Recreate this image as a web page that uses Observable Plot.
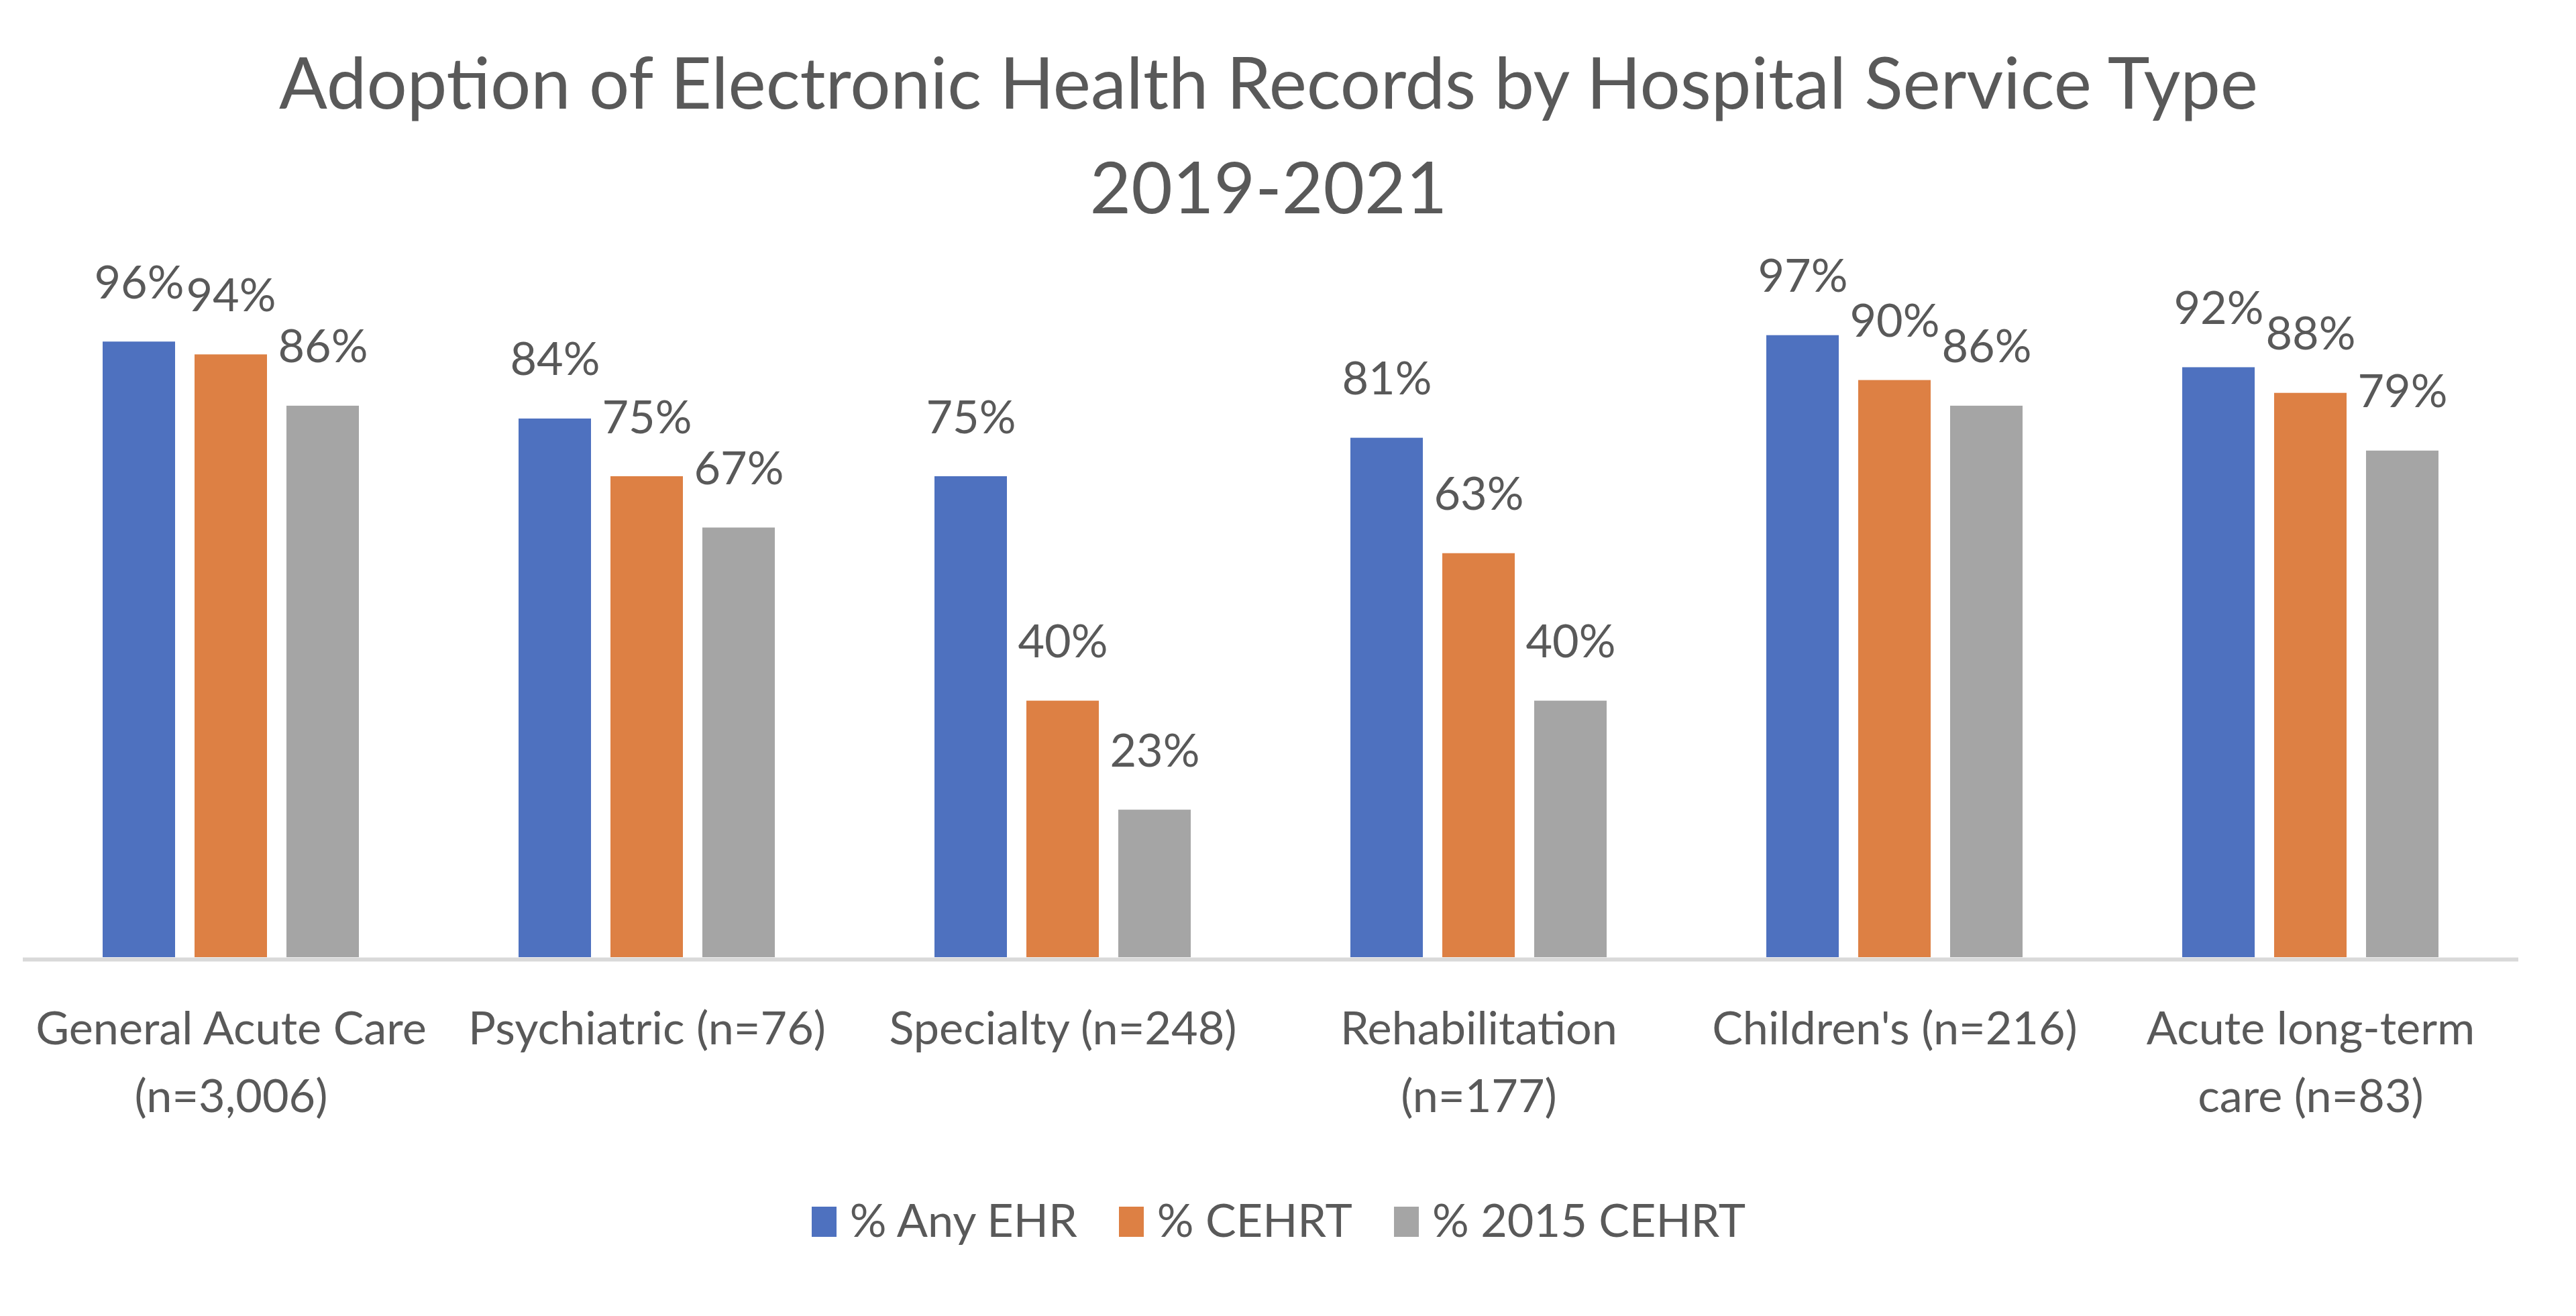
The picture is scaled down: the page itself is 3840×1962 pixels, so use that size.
<!DOCTYPE html>
<html>
<head>
<meta charset="utf-8">
<script src="https://cdn.jsdelivr.net/npm/d3@7"></script>
<script src="https://cdn.jsdelivr.net/npm/@observablehq/plot@0.6"></script>
<style>
  html, body { margin: 0; padding: 0; background: #ffffff; }
  #wrap { position: relative; width: 3840px; height: 1962px; overflow: hidden; background: #ffffff; font-family: Lato, "Open Sans", sans-serif; color: #595959; }
  .title { position: absolute; left: 0; width: 3782px; text-align: center; line-height: 0; white-space: nowrap; }
  #chart { position: absolute; left: 0; top: 360px; }
  #legend { position: absolute; left: 0; width: 3812px; top: 1799px; text-align: center; line-height: 0; white-space: nowrap; }
  .item { display: inline-block; vertical-align: baseline; margin-right: 62px; }
  .item:last-child { margin-right: 0; }
  .sw { display: inline-block; width: 37px; height: 45px; margin-right: 20px; vertical-align: baseline; }
</style>
</head>
<body>
<div id="wrap">
  <div class="title" id="t1"></div>
  <div class="title" id="t2"></div>
  <div id="chart"></div>
  <div id="legend"></div>
</div>
<script>
// ---- data ----
const titleLine1 = "Adoption of Electronic Health Records by Hospital Service Type";
const titleLine2 = "2019-2021";
const categories = [
  "General Acute Care\n(n=3,006)",
  "Psychiatric (n=76)",
  "Specialty (n=248)",
  "Rehabilitation\n(n=177)",
  "Children's (n=216)",
  "Acute long-term\ncare (n=83)"
];
const series = ["% Any EHR", "% CEHRT", "% 2015 CEHRT"];
const anyEHR    = [0.96, 0.84, 0.75, 0.81, 0.97, 0.92];
const cehrt     = [0.94, 0.75, 0.40, 0.63, 0.90, 0.88];
const cehrt2015 = [0.86, 0.67, 0.23, 0.40, 0.86, 0.79];
const colors = ["#4e71bf", "#dd8044", "#a5a5a5"];

// ---- build rows ----
const seriesValues = [anyEHR, cehrt, cehrt2015];
const rows = [];
categories.forEach((c, i) => {
  series.forEach((s, j) => rows.push({cat: c, series: s, value: seriesValues[j][i]}));
});

// ---- font fitting ----
const FONT = 'Lato, "Open Sans", sans-serif';
const ctx = document.createElement("canvas").getContext("2d");
function fit(text, target) {
  ctx.font = `100px ${FONT}`;
  const w = ctx.measureText(text).width;
  return 100 * target / w;
}
const fTitle = fit(titleLine1, 2958);
const fSmall = fit("General Acute Care", 585);
const lineGap = 101; // px between category label lines
const lh = lineGap / fSmall;

// ---- title ----
const t1 = document.getElementById("t1");
const t2 = document.getElementById("t2");
t1.textContent = titleLine1;
t2.textContent = titleLine2;
[t1, t2].forEach(t => { t.style.fontSize = fTitle + "px"; });
t1.style.top = (162 - 0.387 * fTitle) + "px";
t2.style.top = (318 - 0.387 * fTitle) + "px";

// ---- chart ----
const H = 1360;
const chart = Plot.plot({
  width: 3840,
  height: H,
  marginTop: 111,
  marginBottom: 293,
  marginLeft: 34,
  marginRight: 86,
  style: {fontFamily: FONT, background: "#ffffff", color: "#595959"},
  fx: {domain: categories, padding: 0, axis: null},
  x: {domain: series, paddingInner: 0.2117, paddingOuter: 0.8686, axis: null},
  y: {domain: [0, 1], axis: null},
  color: {domain: series, range: colors},
  marks: [
    Plot.barY(rows, {fx: "cat", x: "series", y: "value", fill: "series"}),
    Plot.ruleY([0], {stroke: "#d9d9d9", strokeWidth: 6, dy: 3}),
    Plot.text(rows, {
      fx: "cat", x: "series", y: "value",
      text: d => Math.round(d.value * 100) + "%",
      dy: -65, lineAnchor: "bottom",
      fill: "#595959", fontSize: fSmall
    }),
    Plot.text(categories, {
      fx: d => d, text: d => d,
      frameAnchor: "bottom", lineAnchor: "top",
      dy: 130 - 0.71 * lh * fSmall,
      lineHeight: lh,
      fill: "#595959", fontSize: fSmall
    })
  ]
});
document.getElementById("chart").appendChild(chart);

// ---- legend ----
const legend = document.getElementById("legend");
series.forEach((s, j) => {
  const item = document.createElement("span");
  item.className = "item";
  item.style.fontSize = fSmall + "px";
  const sw = document.createElement("span");
  sw.className = "sw";
  sw.style.background = colors[j];
  item.appendChild(sw);
  item.appendChild(document.createTextNode(s));
  legend.appendChild(item);
});
</script>
</body>
</html>
